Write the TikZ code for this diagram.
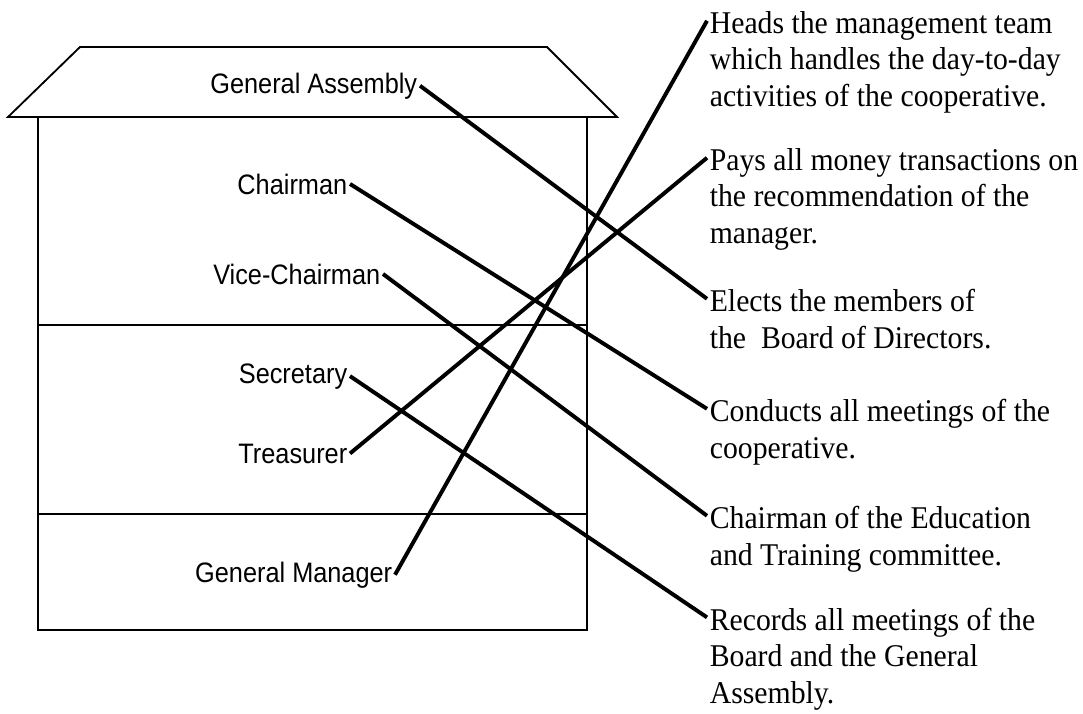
\documentclass[tikz,border=0pt]{standalone}
\usepackage{fontspec}
\setmainfont[FakeStretch=0.94]{Liberation Serif}
\newfontfamily\labelfont[FakeStretch=0.9]{Liberation Sans}

\begin{document}
\begin{tikzpicture}[x=0.025cm, y=-0.025cm,
    post/.style={anchor=base east, inner sep=0pt, outer sep=2pt,
      font=\labelfont\fontsize{20}{24}\selectfont},
    duty/.style={anchor=north west, align=left, inner sep=0pt, outer sep=2pt,
      font=\fontsize{22.5}{26}\selectfont},
    link/.style={line width=2.8pt}]
       \useasboundingbox (0,0) rectangle (1083,713);
       \draw[line width=1.3pt] (8,117) -- (80,47) -- (547,47) -- (617,117) --cycle;
       \draw[line width=1.3pt] (38,117) rectangle (587,630);
       \draw[line width=1.1pt] (38,325) -- (587,325);
       \draw[line width=1.1pt] (38,514) -- (587,514);

       \node[post] (ga) at (420,93) {General Assembly};
       \node[post] (chair) at (350,194) {Chairman};
       \node[post] (vice) at (383,284) {Vice-Chairman};
       \node[post] (sec) at (350,383) {Secretary};
       \node[post] (treas) at (350,463) {Treasurer};
       \node[post] (gm) at (395,582) {General Manager};

       \node[duty] (heads) at (707,8.4) {Heads the management team\\
       which handles the day-to-day\\ activities of the cooperative.};
       \node[duty] (pays) at (707,145.4) {Pays all money transactions on\\
       the recommendation of the\\ manager.};
       \node[duty] (elects) at (707,286.4) {Elects the members of\\
       the\ \ Board of Directors.};
       \node[duty] (conducts) at (707,396.4) {Conducts all meetings of the\\
       cooperative.};
       \node[duty] (educ) at (707,503.4) {Chairman of the Education\\
       and Training committee.};
       \node[duty] (records) at (707,605) {Records all meetings of the\\
       Board and the General\\ Assembly.};

       \draw[link] (ga.east) -- ([yshift=-8.8pt]elects.north west);
       \draw[link] (chair.east) -- ([yshift=-8.8pt]conducts.north west);
       \draw[link] (vice.east) -- ([yshift=-8.8pt]educ.north west);
       \draw[link] (sec.east) -- ([yshift=-8.8pt]records.north west);
       \draw[link] (treas.east) -- ([yshift=-8.8pt]pays.north west);
       \draw[link] (gm.east) -- ([yshift=-8.8pt]heads.north west);
\end{tikzpicture}
\end{document}
